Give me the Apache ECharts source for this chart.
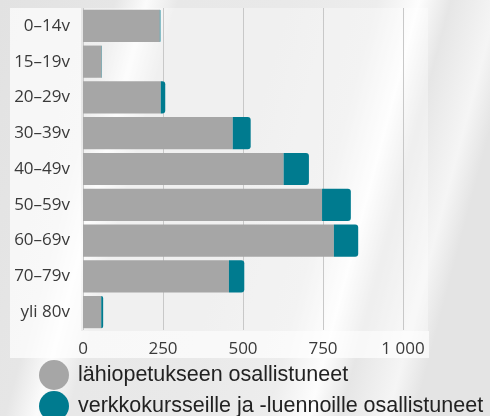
<!DOCTYPE html>
<html>
<head>
<meta charset="utf-8">
<script src="https://cdn.jsdelivr.net/npm/echarts@6/dist/echarts.min.js"></script>
<style>
html,body{margin:0;padding:0;}
#c{width:490px;height:416px;}
</style>
</head>
<body>
<div id="c"></div>
<script>
const categories = ['0–14v','15–19v','20–29v','30–39v','40–49v','50–59v','60–69v','70–79v','yli 80v'];
const seriesNames = ['lähiopetukseen osallistuneet','verkkokursseille ja -luennoille osallistuneet'];
const lahiValues = [240, 58, 243, 468, 627, 747, 784, 456, 57];
const verkkoValues = [2, 1, 14, 56, 79, 90, 76, 48, 6];
const xTicks = [0, 250, 500, 750, 1000];

const chart = echarts.init(document.getElementById('c'), null, {renderer:'canvas'});
const bg = new echarts.graphic.LinearGradient(0, 0, 490, 130, [
  {offset:0, color:'#e2e2e2'},
  {offset:0.22, color:'#e6e6e6'},
  {offset:0.28, color:'#fbfbfb'},
  {offset:0.34, color:'#e8e8e8'},
  {offset:0.55, color:'#e9e9e9'},
  {offset:0.72, color:'#ededed'},
  {offset:0.8, color:'#fdfdfd'},
  {offset:0.86, color:'#e6e6e6'},
  {offset:0.95, color:'#f5f5f5'},
  {offset:1, color:'#e4e4e4'}
], true);

function fmt(v){ return String(v).replace(/\B(?=(\d{3})+(?!\d))/g, ' '); }

const legendBase = {
  orient:'vertical', left:39, padding:0,
  icon:'circle', itemWidth:30, itemHeight:30, itemGap:1,
  textStyle:{fontFamily:'Liberation Sans', fontSize:21.5, color:'#222', padding:[2,0,0,4]}
};

chart.setOption({
  animation:false,
  backgroundColor: bg,
  graphic:[
    {type:'rect', shape:{x:10,y:8,width:71,height:323}, style:{fill:'rgba(255,255,255,0.7)'}, z:-10},
    {type:'rect', shape:{x:10,y:331,width:419,height:27}, style:{fill:'rgba(255,255,255,0.7)'}, z:-10},
    {type:'rect', shape:{x:83,y:8,width:345,height:323}, style:{fill:'rgba(255,255,255,0.35)'}, z:-10}
  ],
  grid:{left:83, right:87, top:8, bottom:86, containLabel:false},
  legend:[
    Object.assign({}, legendBase, {top:360, data:[seriesNames[0]]}),
    Object.assign({}, legendBase, {top:391, data:[seriesNames[1]]})
  ],
  xAxis:{
    type:'value', min:0, max:1000, interval:250,
    axisLine:{show:false}, axisTick:{show:false},
    splitLine:{lineStyle:{color:'#c8c8c8', width:1}},
    axisLabel:{fontFamily:'Open Sans', fontSize:17, color:'#3a3a3a', margin:11,
      formatter: v => xTicks.includes(v) ? fmt(v) : ''}
  },
  yAxis:{
    type:'category', inverse:true, data:categories,
    axisLine:{show:false}, axisTick:{show:false},
    axisLabel:{fontFamily:'Open Sans', fontSize:17, color:'#3a3a3a', margin:13}
  },
  series:[
    {name:seriesNames[0], type:'bar', stack:'a', data:lahiValues, barCategoryGap:'10%',
      itemStyle:{color:'#a6a6a6'}},
    {name:seriesNames[1], type:'bar', stack:'a', data:verkkoValues,
      itemStyle:{color:'#007b8f', borderRadius:[0,3,3,0]}}
  ]
});
</script>
</body>
</html>
